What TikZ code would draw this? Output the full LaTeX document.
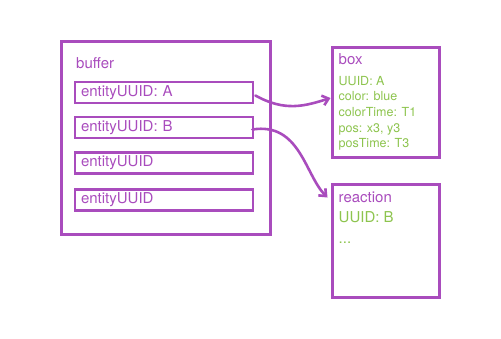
\documentclass[tikz,border=0pt]{standalone}
\usepackage{fontspec}
\setmainfont{TeX Gyre Heros}
\usetikzlibrary{positioning,arrows.meta,calc}
\definecolor{sketchpurple}{HTML}{A94CBD}
\definecolor{sketchgreen}{HTML}{8DC44E}

\begin{document}
\begin{tikzpicture}[
  x=1pt, y=-1pt,
  font=\fontsize{15}{17}\selectfont,
  bufbox/.style={draw=sketchpurple, line width=3pt, minimum width=209pt, minimum height=193pt, inner sep=0pt},
  slotbox/.style={draw=sketchpurple, line width=2.8pt, minimum width=178pt, minimum height=21pt, inner xsep=5pt, inner ysep=0pt, text width=166pt, align=left, text=sketchpurple},
  entbox/.style={draw=sketchpurple, line width=3pt, minimum width=107pt, inner sep=0pt},
  entlabel/.style={anchor=north west, align=left, inner sep=0pt},
  linkmap/.style={-{Straight Barb[length=6pt,width=10pt]}, draw=sketchpurple, line width=2.6pt, line cap=round}
]
  \useasboundingbox (0,0) rectangle (501,338);
  % buffer with its slots
  \node[bufbox] (buf) at (166,138) {};
  \node[anchor=west, text=sketchpurple, inner sep=0pt] (buftitle) at (76,63) {buffer};
  \node[slotbox] (slotA) at (164,92.5) {entityUUID: A};
  \node[slotbox] (slotB) at (164,127.5) {entityUUID: B};
  \node[slotbox] (slotC) at (164,163) {entityUUID};
  \node[slotbox] (slotD) at (164,200) {entityUUID};
  % entities
  \node[entbox, minimum height=110pt] (boxent) at (385.5,102) {};
  \node[entlabel, text=sketchpurple] (boxtitle) at ($(boxent.north west)+(8,8)$) {box};
  \node[entlabel, text=sketchgreen, below=11pt of boxtitle.south west, anchor=north west, font=\fontsize{12.5}{15.6}\selectfont] (boxattr)
    {UUID: A\\color: blue\\colorTime: T1\\pos: x3, y3\\posTime: T3};
  \node[entbox, minimum height=113pt] (react) at (385.5,240.5) {};
  \node[entlabel, text=sketchpurple] (reacttitle) at ($(react.north west)+(8,9)$) {reaction};
  \node[entlabel, text=sketchgreen, below=9pt of reacttitle.south west, anchor=north west, font=\fontsize{15}{21}\selectfont] (reactattr)
    {UUID: B\\...};
  % links
  \draw[linkmap] ([xshift=1pt,yshift=-3pt]slotA.east) .. controls (285,112) and (305,106) .. ([yshift=4pt]boxent.west);
  \draw[linkmap] ([xshift=-2pt,yshift=-2pt]slotB.east) .. controls (300,122) and (305,175) .. ([xshift=-3pt,yshift=-15pt]react.north west);
\end{tikzpicture}
\end{document}
